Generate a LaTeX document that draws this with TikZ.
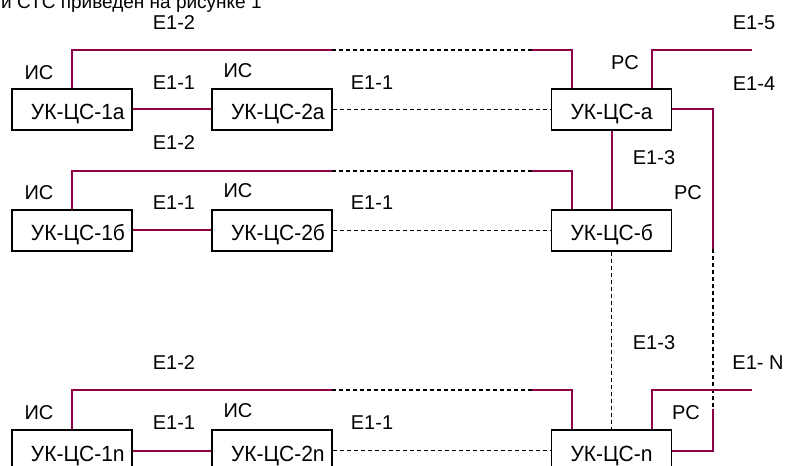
\documentclass[tikz,border=0pt]{standalone}
\usepackage{fontspec}
\setmainfont{Liberation Sans}
\usetikzlibrary{calc}
\definecolor{wire}{RGB}{140,0,70}
\tikzset{
  box/.style={draw=black, line width=1.4bp, inner sep=0pt, minimum height=41bp,
    text height=21bp, text depth=0pt, font=\fontsize{22bp}{26bp}\selectfont},
  lbl/.style={inner sep=0pt, font=\fontsize{20bp}{24bp}\selectfont},
  pl/.style={draw=wire, line width=2bp},
  dl/.style={draw=black, line width=1.4bp, dash pattern=on 4bp off 3bp},
}
\newcommand{\boxtext}[1]{\makebox[120bp][l]{\hspace*{19bp}\scalebox{0.955}[1]{#1}}}
\begin{document}
\begin{tikzpicture}[x=1bp,y=-1bp]
\useasboundingbox (0,0) rectangle (786,466);
\fill[white] (0,0) rectangle (786,466);
\clip (0,0) rectangle (786,466);

\node[anchor=base west, inner sep=0pt, font=\fontsize{19bp}{23bp}\selectfont] (cap) at (1,8.3) {и СТС приведен на рисунке 1};

% boxes
\node[box] (b1a) at (72,109.5) {\boxtext{УК-ЦС-1а}};
\node[box] (b2a) at (272,109.5) {\boxtext{УК-ЦС-2а}};
\node[box] (ba) at (611.5,109.5) {\boxtext{УК-ЦС-а}};
\node[box] (b1b) at (72,230.5) {\boxtext{УК-ЦС-1б}};
\node[box] (b2b) at (272,230.5) {\boxtext{УК-ЦС-2б}};
\node[box] (bb) at (611.5,230.5) {\boxtext{УК-ЦС-б}};
\node[box] (b1n) at (72,450.5) {\boxtext{УК-ЦС-1n}};
\node[box] (b2n) at (272,450.5) {\boxtext{УК-ЦС-2n}};
\node[box] (bn) at (611.5,450.5) {\boxtext{УК-ЦС-n}};

% row a
\coordinate (ta1) at (72,50);
\coordinate (ta2) at (332,50);
\coordinate (ta3) at (532,50);
\draw[pl] (b1a.east) -- (b2a.west);
\draw[dl] (b2a.east) -- (ba.west);
\draw[pl] (b1a.north -| ta1) -- (ta1) -- (ta2);
\draw[dl] (ta2) -- (ta3);
\draw[pl] (ta3) -| ($(ba.north west)+(21.5,0)$);

% row b
\coordinate (tb1) at (72,171);
\coordinate (tb2) at (332,171);
\coordinate (tb3) at (532,171);
\draw[pl] (b1b.east) -- (b2b.west);
\draw[dl] (b2b.east) -- (bb.west);
\draw[pl] (b1b.north -| tb1) -- (tb1) -- (tb2);
\draw[dl] (tb2) -- (tb3);
\draw[pl] (tb3) -| ($(bb.north west)+(21.5,0)$);

% row n
\coordinate (tn1) at (72,390);
\coordinate (tn2) at (332,390);
\coordinate (tn3) at (532,390);
\draw[pl] (b1n.east) -- (b2n.west);
\draw[dl] (b2n.east) -- (bn.west);
\draw[pl] (b1n.north -| tn1) -- (tn1) -- (tn2);
\draw[dl] (tn2) -- (tn3);
\draw[pl] (tn3) -| ($(bn.north west)+(21.5,0)$);

% right side
\coordinate (ra1) at (752,50);
\coordinate (rn1) at (752,390);
\coordinate (rv1) at (713,249);
\coordinate (rv2) at (713,409);
\draw[pl] ($(ba.north west)+(101.5,0)$) |- (ra1);
\draw[pl] (ba.east) -| (rv1);
\draw[dl] (rv1) -- (rv2);
\draw[pl] (rv2) |- (bn.east);
\draw[pl] (ba.south) -- (bb.north);
\draw[dl] (bb.south) -- (bn.north);
\draw[pl] ($(bn.north west)+(101.5,0)$) |- (rn1);

% labels
\node[lbl] (l1) at (174,23) {E1-2};
\node[lbl] (l2) at (39,73) {ИС};
\node[lbl] (l3) at (174,83) {E1-1};
\node[lbl] (l4) at (238,71) {ИС};
\node[lbl] (l5) at (372,83) {E1-1};
\node[lbl] (l6) at (174,143) {E1-2};
\node[lbl] (l7) at (625,63) {РС};
\node[lbl] (l8) at (754,23) {E1-5};
\node[lbl] (l9) at (754,84) {E1-4};

\node[lbl] (m2) at (39,193) {ИС};
\node[lbl] (m3) at (174,203) {E1-1};
\node[lbl] (m4) at (238,191) {ИС};
\node[lbl] (m5) at (372,203) {E1-1};
\node[lbl] (m6) at (654,158) {E1-3};
\node[lbl] (m7) at (688,193) {РС};

\node[lbl] (n1) at (174,363) {E1-2};
\node[lbl] (n2) at (39,413) {ИС};
\node[lbl] (n3) at (174,423) {E1-1};
\node[lbl] (n4) at (238,411) {ИС};
\node[lbl] (n5) at (372,423) {E1-1};
\node[lbl] (n6) at (654,343) {E1-3};
\node[lbl] (n7) at (686,413) {РС};
\node[lbl] (n8) at (758,363) {E1- N};
\end{tikzpicture}
\end{document}
